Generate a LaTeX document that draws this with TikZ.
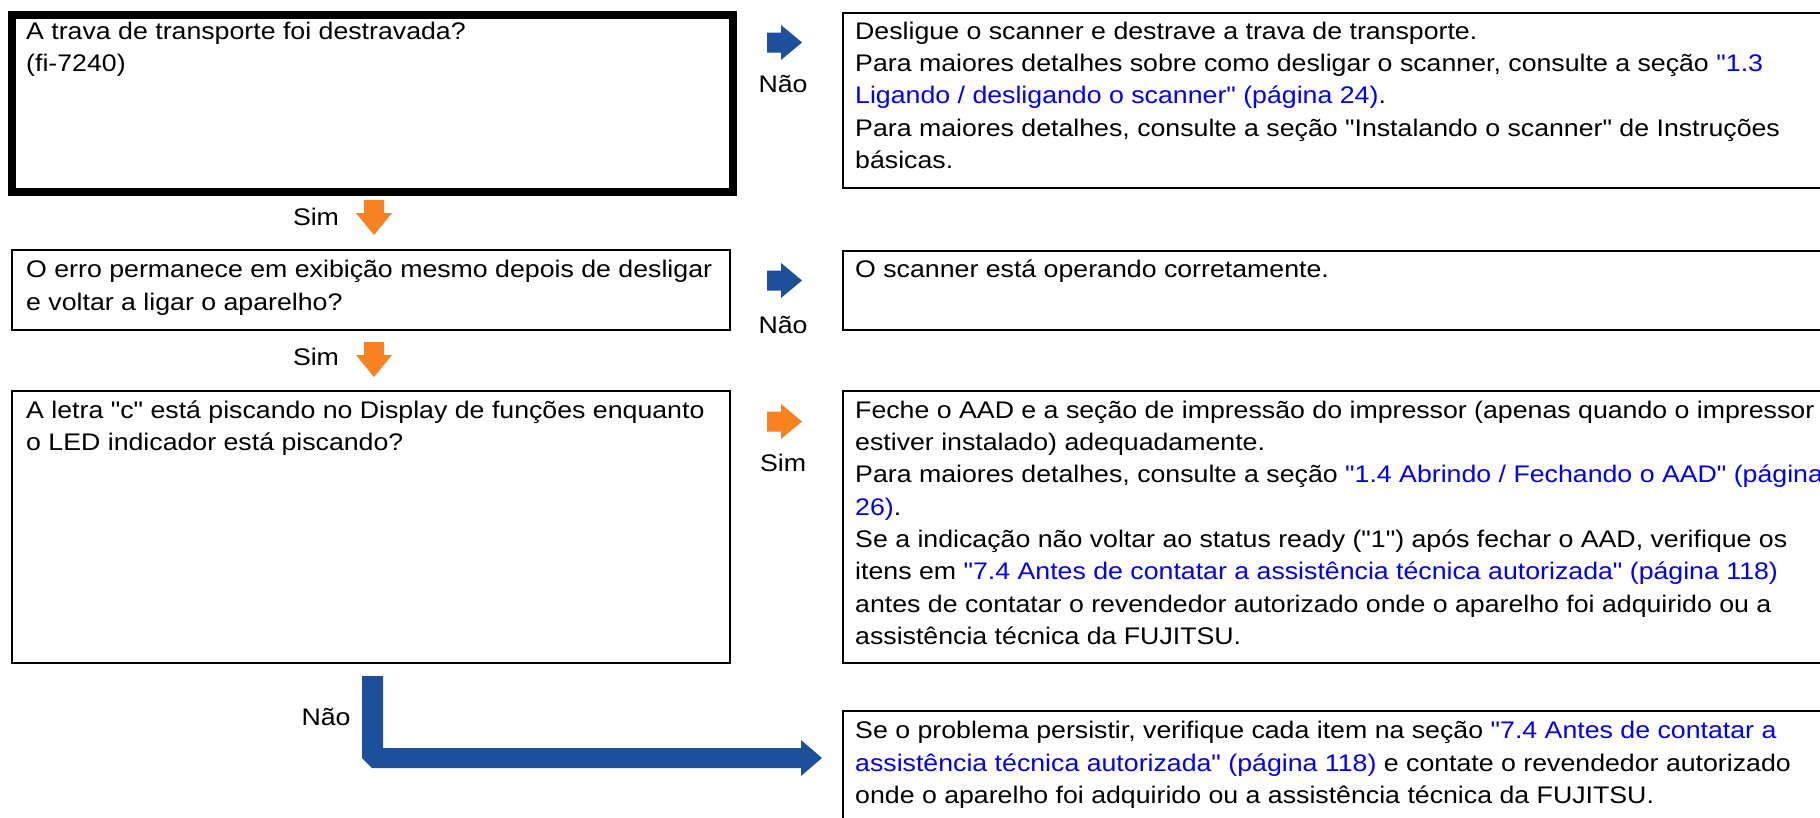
\documentclass[tikz,border=0pt]{standalone}
\usepackage{fontspec}
\setmainfont{Liberation Sans}[Ligatures=TeXOff, FakeStretch=1.113]
\definecolor{arrblue}{RGB}{28,80,155}
\definecolor{arrorange}{RGB}{247,130,31}
\definecolor{linkblue}{RGB}{0,0,255}
\newcommand{\lk}[1]{\textcolor{linkblue}{#1}}
\begin{document}
\begin{tikzpicture}[x=1pt,y=-1pt,
  txt/.style={anchor=north west, inner sep=0pt, align=left, font=\fontsize{24}{32.3}\selectfont},
  lbl/.style={anchor=base, inner sep=0pt, font=\fontsize{24}{32.3}\selectfont},
  qbox/.style={draw=black, line width=2.2pt, anchor=north west, inner sep=0pt},
  thickbox/.style={draw=black, line width=8pt, anchor=north west, inner sep=0pt},
  noarrow/.style={fill=arrblue},
  yesarrow/.style={fill=arrorange}
]
\useasboundingbox (0,0) rectangle (1820,817);

% boxes
\node[thickbox, minimum width=721pt, minimum height=177pt] (q1) at (8,11) {};
\node[qbox, minimum width=718pt, minimum height=79.5pt] (q2) at (10.5,249) {};
\node[qbox, minimum width=718pt, minimum height=271.5pt] (q3) at (10.5,390) {};
\node[qbox, minimum width=1000pt, minimum height=175pt] (a1) at (842,11.5) {};
\node[qbox, minimum width=1000pt, minimum height=79pt] (a2) at (842,249.5) {};
\node[qbox, minimum width=1000pt, minimum height=272pt] (a3) at (842,389.5) {};
\node[qbox, minimum width=1000pt, minimum height=130pt] (a4) at (842,710) {};

% texts
\node[txt] (t1) at (26,16.4) {\strut A trava de transporte foi destravada?\\(fi-7240)};
\node[txt] (t2) at (26,254.9) {\strut O erro permanece em exibição mesmo depois de desligar\\e voltar a ligar o aparelho?};
\node[txt] (t3) at (26,395.4) {\strut A letra "c" está piscando no Display de funções enquanto\\o LED indicador está piscando?};

\node[txt] (r1) at (855,16.4) {\strut Desligue o scanner e destrave a trava de transporte.\\
Para maiores detalhes sobre como desligar o scanner, consulte a seção \lk{"1.3}\\
\lk{Ligando / desligando o scanner" (página 24)}.\\
Para maiores detalhes, consulte a seção "Instalando o scanner" de Instruções\\
básicas.};
\node[txt] (r2) at (855,254.9) {\strut O scanner está operando corretamente.};
\node[txt] (r3) at (855,395.4) {\strut Feche o AAD e a seção de impressão do impressor (apenas quando o impressor\\
estiver instalado) adequadamente.\\
Para maiores detalhes, consulte a seção \lk{"1.4 Abrindo / Fechando o AAD" (página}\\
\lk{26)}.\\
Se a indicação não voltar ao status ready ("1") após fechar o AAD, verifique os\\
itens em \lk{"7.4 Antes de contatar a assistência técnica autorizada" (página 118)}\\
antes de contatar o revendedor autorizado onde o aparelho foi adquirido ou a\\
assistência técnica da FUJITSU.};
\node[txt] (r4) at (855,715.9) {\strut Se o problema persistir, verifique cada item na seção \lk{"7.4 Antes de contatar a}\\
\lk{assistência técnica autorizada" (página 118)} e contate o revendedor autorizado\\
onde o aparelho foi adquirido ou a assistência técnica da FUJITSU.};

% labels
\node[lbl] (s1) at (316,225) {Sim};
\node[lbl] (s2) at (316,365.7) {Sim};
\node[lbl] (n1) at (783,92.5) {Não};
\node[lbl] (n2) at (783,333) {Não};
\node[lbl] (s3) at (783,471.5) {Sim};
\node[lbl] (n3) at (326,725) {Não};

% arrows
\fill[noarrow] (767,32.5) -- (781,32.5) -- (781,25) -- (802,42.5) -- (781,60) -- (781,52.5) -- (767,52.5) -- cycle;
\fill[noarrow] (767,270.5) -- (781,270.5) -- (781,263) -- (802,280.5) -- (781,298) -- (781,290.5) -- (767,290.5) -- cycle;
\fill[yesarrow] (767,411.5) -- (781,411.5) -- (781,404) -- (802,421.5) -- (781,439) -- (781,431.5) -- (767,431.5) -- cycle;
\fill[yesarrow] (364,200) -- (384,200) -- (384,213) -- (392,213) -- (374,235) -- (356,213) -- (364,213) -- cycle;
\fill[yesarrow] (364,342) -- (384,342) -- (384,355) -- (392,355) -- (374,377) -- (356,355) -- (364,355) -- cycle;
\fill[noarrow] (362,676) -- (383,676) -- (383,748) -- (801,748) -- (801,740) -- (822,758) -- (801,776) -- (801,768) -- (372,768) -- (362,758) -- cycle;
\end{tikzpicture}
\end{document}
